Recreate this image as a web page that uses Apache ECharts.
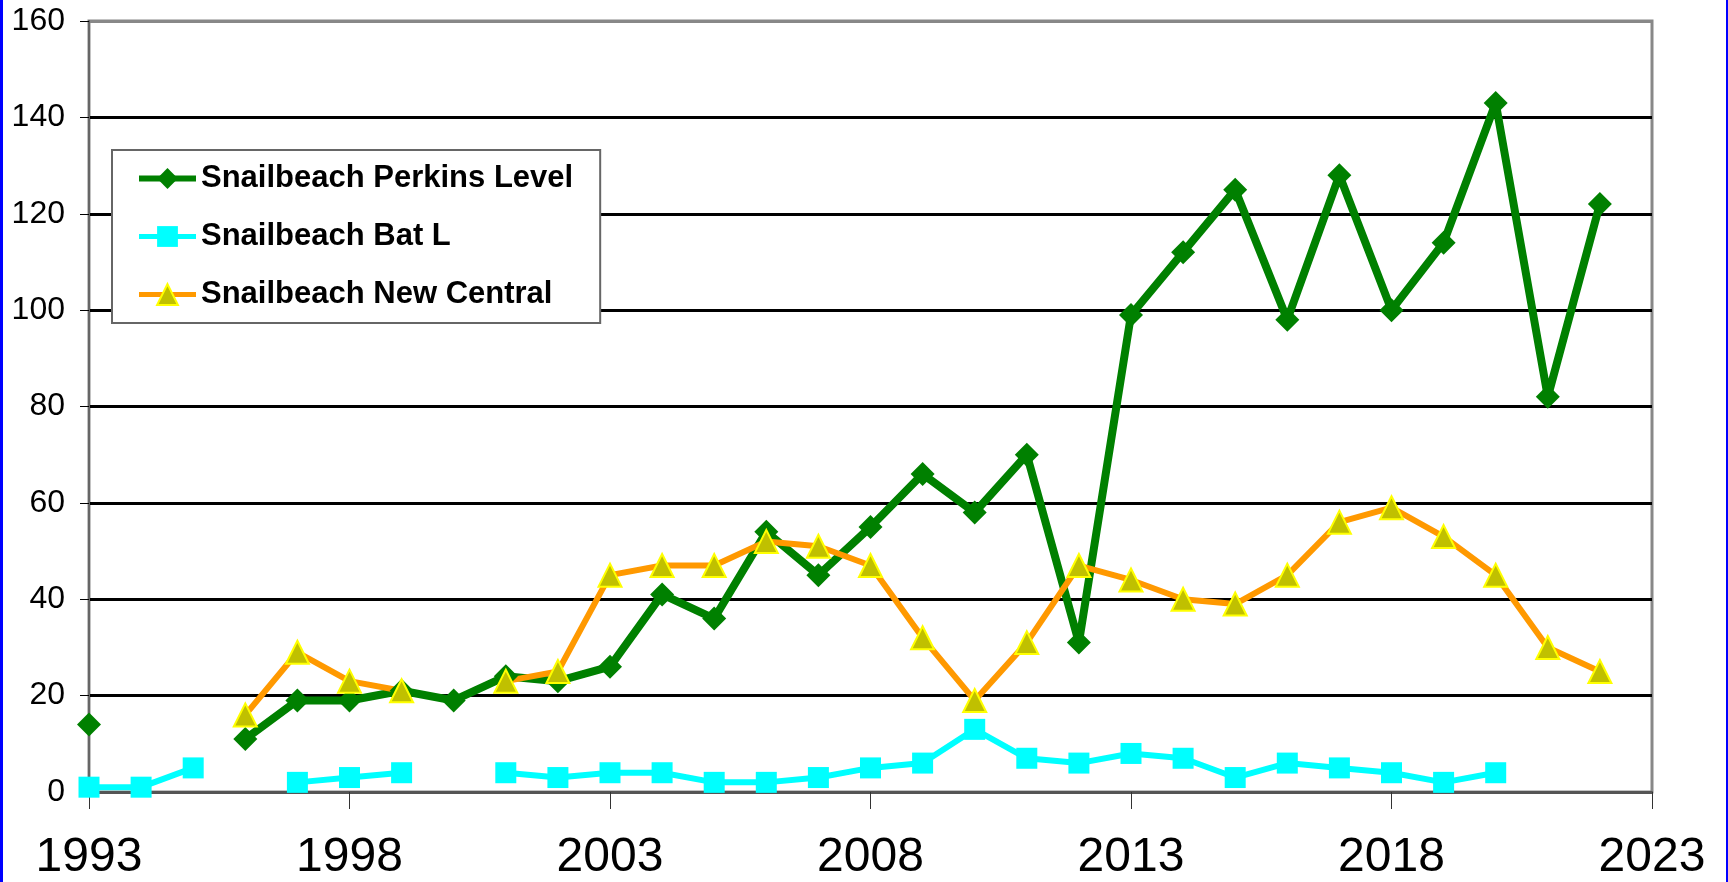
<!DOCTYPE html>
<html>
  <head>
    <meta charset="utf-8" />
    <title>Snailbeach counts</title>
    <style>
      body { margin: 0; background: #fff; }
      #chart { position: absolute; left: 0; top: 0; width: 1728px; height: 882px; }
      .edge { position: absolute; top: 0; height: 882px; background: #0000ff; }
    </style>
  </head>
  <body>
    <script src="https://cdn.jsdelivr.net/npm/echarts@6/dist/echarts.min.js"></script>

    <div id="chart"></div>
    <div class="edge" style="left: 0; width: 3px"></div>
    <div class="edge" style="left: 1726px; width: 2px"></div>

    <script>
      const years = [
        '1993', '1994', '1995', '1996', '1997', '1998', '1999', '2000',
        '2001', '2002', '2003', '2004', '2005', '2006', '2007', '2008',
        '2009', '2010', '2011', '2012', '2013', '2014', '2015', '2016',
        '2017', '2018', '2019', '2020', '2021', '2022', '2023',
      ];

      // null = no count that year
      const perkinsLevel = [
        14, null, null, 11, 19, 19, 21, 19, 24, 23, 26, 41, 36, 54, 45, 55,
        66, 58, 70, 31, 99, 112, 125, 98, 128, 100, 114, 143, 82, 122,
      ];
      const batL = [
        1, 1, 5, null, 2, 3, 4, null, 4, 3, 4, 4, 2, 2, 3, 5,
        6, 13, 7, 6, 8, 7, 3, 6, 5, 4, 2, 4, null, null,
      ];
      const newCentral = [
        null, null, null, 16, 29, 23, 21, null, 23, 25, 45, 47, 47, 52, 51, 47,
        32, 19, 31, 47, 44, 40, 39, 45, 56, 59, 53, 45, 30, 25,
      ];

      const font = '"Liberation Sans", Arial, sans-serif';

      let chart = echarts.init(document.getElementById('chart'), null, {
        width: 1728,
        height: 882,
      });

      let opts = {
        animation: false,
        backgroundColor: '#fff',
        textStyle: { fontFamily: font },
        grid: {
          left: 89,
          right: 76,
          top: 21,
          bottom: 87,
          show: true,
          borderColor: '#888',
          borderWidth: 3,
          backgroundColor: '#fff',
        },
        legend: {
          orient: 'vertical',
          left: 112,
          top: 150,
          padding: [13, 27, 13, 24],
          itemGap: 27,
          itemWidth: 57,
          itemHeight: 26,
          backgroundColor: '#fff',
          borderColor: '#666',
          borderWidth: 2,
          borderRadius: 0,
          textStyle: {
            fontFamily: font,
            fontSize: 31,
            fontWeight: 'bold',
            color: '#000',
          },
          data: [
            { name: 'Snailbeach Perkins Level', lineStyle: { width: 6 } },
            { name: 'Snailbeach Bat L', lineStyle: { width: 5 } },
            { name: 'Snailbeach New Central', lineStyle: { width: 5 } },
          ],
        },
        xAxis: {
          type: 'category',
          data: years,
          boundaryGap: false,
          axisLine: { lineStyle: { color: '#555', width: 2 } },
          axisTick: {
            interval: 4,
            length: 17,
            lineStyle: { color: '#333', width: 1 },
          },
          axisLabel: {
            interval: 4,
            margin: 42,
            fontSize: 48,
            color: '#000',
            fontFamily: font,
          },
          splitLine: { show: false },
        },
        yAxis: {
          type: 'value',
          min: 0,
          max: 160,
          interval: 20,
          axisLine: { show: true, lineStyle: { color: '#666', width: 2 } },
          axisTick: { show: true, length: 9, lineStyle: { color: '#000', width: 1 } },
          axisLabel: { margin: 24, fontSize: 32, color: '#000', fontFamily: font },
          splitLine: {
            show: true,
            lineStyle: {
              width: 3,
              color: ['#555', '#000', '#000', '#000', '#000', '#000', '#000', '#000', '#888'],
            },
          },
        },
        series: [
          {
            name: 'Snailbeach Perkins Level',
            type: 'line',
            data: perkinsLevel,
            symbol: 'diamond',
            symbolSize: 24,
            lineStyle: { color: '#008000', width: 8 },
            itemStyle: { color: '#008000' },
          },
          {
            name: 'Snailbeach Bat L',
            type: 'line',
            data: batL,
            symbol: 'rect',
            symbolSize: 21,
            lineStyle: { color: '#00ffff', width: 6 },
            itemStyle: { color: '#00ffff' },
          },
          {
            name: 'Snailbeach New Central',
            type: 'line',
            data: newCentral,
            symbol: 'triangle',
            symbolSize: 23,
            lineStyle: { color: '#ff9900', width: 6 },
            itemStyle: { color: '#c0c000', borderColor: '#ffff00', borderWidth: 2 },
          },
        ],
      };

      chart.setOption(opts);
    </script>
  </body>
</html>
